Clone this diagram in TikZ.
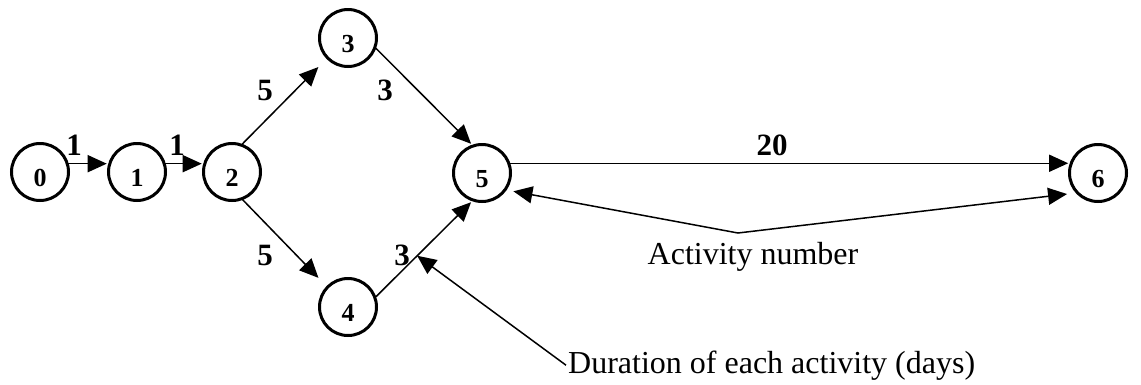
\documentclass[tikz,border=0pt]{standalone}
\usepackage{fontspec}
\setmainfont{Liberation Serif}
\usetikzlibrary{arrows.meta}
\begin{document}
\begin{tikzpicture}[x=1pt,y=-1pt,
  event/.style={circle,draw,line width=3pt,minimum size=57pt,inner sep=0pt,outer sep=0pt,
    font=\fontsize{26}{26}\selectfont\bfseries,text height=28pt,text depth=0pt},
  act/.style={line width=1.5pt,-{Triangle[length=19pt,width=17pt]}},
  dur/.style={anchor=base,inner sep=0pt,font=\fontsize{31}{31}\selectfont\bfseries},
  note/.style={inner sep=0pt,font=\fontsize{32}{32}\selectfont}]
\path[use as bounding box] (0,0) rectangle (1141,384);

% events
\node[event] (n0) at (40,172) {0};
\node[event] (n1) at (137,172) {1};
\node[event] (n2) at (232,172) {2};
\node[event] (n3) at (348,38) {3};
\node[event] (n4) at (348,307) {4};
\node[event] (n5) at (482,173) {5};
\node[event] (n6) at (1098,173) {6};

% activities
\draw[act,shorten >=3pt] (n0.17) -- (n1.163);
\draw[act,shorten >=3pt] (n1.17) -- (n2.163);
\draw[act,shorten >=13pt] (n2.71) -- (n3.224);
\draw[act,shorten >=13pt] (n2.-70) -- (n4.136);
\draw[act,shorten >=3pt] (n3.-19) -- (n5.108);
\draw[act,shorten >=3pt] (n4.19) -- coordinate[pos=0.43] (d3) (n5.252);
\draw[act,shorten >=3pt] (n5.20) -- (n6.160);

% durations
\node[dur] (l01) at (74,155) {1};
\node[dur] (l12) at (177,155) {1};
\node[dur] (l23) at (265,100) {5};
\node[dur] (l24) at (265,265) {5};
\node[dur] (l35) at (385,100) {3};
\node[dur] (l45) at (402,265) {3};
\node[dur] (l56) at (772,155) {20};

% annotations
\node[note,anchor=base] (actnum) at (753,264) {Activity number};
\coordinate (apex) at (738,233);
\draw[line width=1.5pt,{Triangle[length=19pt,width=17pt]}-{Triangle[length=19pt,width=17pt]},
  shorten <=8.5pt,shorten >=10.5pt] (n5.-36) -- (apex) -- (n6.224);

\node[note,anchor=base west,inner xsep=2pt] (durnote) at (566,373) {Duration of each activity (days)};
\draw[act] (durnote.west) -- (d3);
\end{tikzpicture}
\end{document}
